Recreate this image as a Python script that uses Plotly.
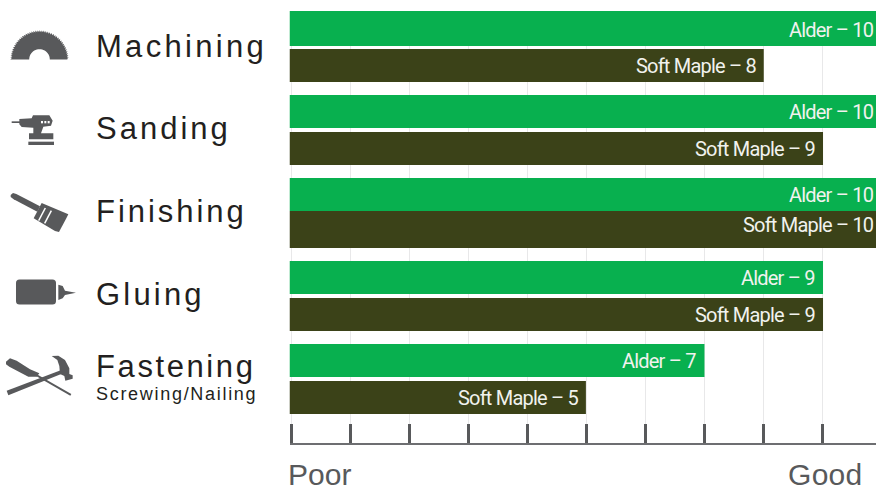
import math
import plotly.graph_objects as go

# ---- data ----
categories = ["Machining", "Sanding", "Finishing", "Gluing", "Fastening"]
alder = [10, 10, 10, 9, 7]
soft_maple = [8, 9, 10, 9, 5]
series_names = ["Alder", "Soft Maple"]
subtitle = "Screwing/Nailing"
axis_low = "Poor"
axis_high = "Good"

# ---- layout constants (pixels of the 876x486 picture) ----
W, H = 876, 486
PLOT_L, PLOT_R, PLOT_T, PLOT_B = 289.5, 876, 11, 443
GROUP_H = 83
FIRST_C = 47
UNIT = 59.28
ZERO_PX = 289.5
TICK0_PX = 291
TICK_STEP_PX = 59.1
GREEN, OLIVE, GREY, INK = "#08b04f", "#3b4218", "#58595b", "#231f20"

xmin = (PLOT_L - ZERO_PX) / UNIT
xmax = (PLOT_R - ZERO_PX) / UNIT
ymin = (PLOT_T - FIRST_C) / GROUP_H
ymax = (PLOT_B - FIRST_C) / GROUP_H

alder_offset = [-36, -35, -35, -35, -35]
alder_width = [35, 33, 33, 33, 33]
maple_offset = [2, 2, -2, 2, 2]
maple_width = [33, 33, 37, 33, 33]
alder_shift = [17, 18, 18, 18, 18]
maple_shift = [-19, -19, -12, -19, -19]


def scaled(vals):
    return [v / GROUP_H for v in vals]


fig = go.Figure()
fig.add_trace(go.Bar(y=categories, x=alder, orientation="h", name=series_names[0],
                     offset=scaled(alder_offset), width=scaled(alder_width),
                     marker=dict(color=GREEN, line=dict(width=0)), hoverinfo="skip"))
fig.add_trace(go.Bar(y=categories, x=soft_maple, orientation="h", name=series_names[1],
                     offset=scaled(maple_offset), width=scaled(maple_width),
                     marker=dict(color=OLIVE, line=dict(width=0)), hoverinfo="skip"))


def spaced(text, sp):
    return f'<span style="letter-spacing:{sp}px">{text}</span>'


anns = []


def bar_label(cat, name, v, yshift):
    clipped = v > xmax
    anns.append(dict(x=min(v, xmax), y=cat, xref="x", yref="y", text=spaced(f"{name} – {v}", -0.8),
                     showarrow=False, xanchor="right", yanchor="middle", align="right",
                     xshift=0 if clipped else -6, yshift=yshift,
                     font=dict(family="Roboto, sans-serif", size=20, color="#f1f2ee")))


for i, c in enumerate(categories):
    bar_label(c, series_names[0], alder[i], alder_shift[i])
    bar_label(c, series_names[1], soft_maple[i], maple_shift[i])


def paper_text(text, x, y, size, color=INK, sp=0.0, anchor="left"):
    anns.append(dict(x=x / W, y=1 - y / H, xref="paper", yref="paper", text=spaced(text, sp) if sp else text,
                     showarrow=False, xanchor=anchor, yanchor="middle", align=anchor,
                     font=dict(family="Liberation Sans, sans-serif", size=size, color=color)))


row_y = [46, 128, 211, 294, 366]
row_sp = [3.3, 3.0, 2.95, 3.2, 2.6]
for c, y, s in zip(categories, row_y, row_sp):
    paper_text(c, 94, y, 31, sp=s)
paper_text(subtitle, 94, 394, 18, sp=1.7)
paper_text(axis_low, 286, 474, 30, color=GREY)
paper_text(axis_high, 864.5, 474, 30, color=GREY, anchor="right", sp=0.3)


# ---- icons drawn as paper shapes ----
def P(x, y):
    return f"{x / W:.5f},{1 - y / H:.5f}"


def poly(points):
    return "M" + " L".join(P(x, y) for x, y in points) + " Z"


def z(ox, oy, pts):
    return [(ox + a / 3, oy + b / 3) for a, b in pts]


shapes = []


def icon(path, fill=GREY):
    shapes.append(dict(type="path", xref="paper", yref="paper", path=path,
                       fillcolor=fill, line=dict(width=0), layer="above"))


# saw blade
cx, cy, ro, ri, rh = 39.5, 59.5, 29.2, 27.4, 10.3
teeth = 44
pts = []
for k in range(teeth + 1):
    t = math.pi - math.pi * k / teeth
    pts.append((cx + ro * math.cos(t), cy - ro * math.sin(t)))
    if k < teeth:
        t2 = t - math.pi / teeth * 0.85
        pts.append((cx + ri * math.cos(t2), cy - ri * math.sin(t2)))
for k in range(25):
    t = math.pi * k / 24
    pts.append((cx + rh * math.cos(t), cy - rh * math.sin(t)))
icon(poly(pts))

# sander
icon(poly(z(5, 105, [(20, 49), (45, 49), (45, 54), (20, 54)])))
icon(poly(z(5, 105, [(43, 42), (80, 40), (84, 31), (133, 31), (143, 47), (138, 62), (115, 65), (108, 85),
                     (145, 85), (145, 103), (72, 103), (72, 85), (85, 85), (85, 68), (50, 66), (43, 58)])))
icon(poly(z(5, 105, [(70, 110), (147, 110), (147, 120), (70, 120)])))
for a in (108, 118, 128):
    icon(poly(z(5, 105, [(a, 48), (a + 6, 48), (a + 6, 55), (a, 55)])), "#ffffff")

# brush
icon(poly(z(5, 185, [(17, 30), (24, 24), (34, 27), (105, 64), (97, 80), (26, 43), (17, 36)])))
icon(poly(z(5, 185, [(110, 54), (190, 88), (184, 100), (162, 141), (150, 138), (86, 100)])))
icon(poly(z(5, 185, [(119, 68), (123, 70), (103, 108), (99, 106)])), "#ffffff")
icon(poly(z(5, 185, [(137, 76), (141, 78), (121, 116), (117, 114)])), "#ffffff")

# glue bottle
x0, y0, x1, y1, r = 16, 279.5, 56, 304.5, 3.5
icon(f"M{P(x0 + r, y0)} L{P(x1 - r, y0)} Q{P(x1, y0)} {P(x1, y0 + r)} L{P(x1, y1 - r)} Q{P(x1, y1)} {P(x1 - r, y1)} "
     f"L{P(x0 + r, y1)} Q{P(x0, y1)} {P(x0, y1 - r)} L{P(x0, y0 + r)} Q{P(x0, y0)} {P(x0 + r, y0)} Z")
icon(poly(z(10, 270, [(145, 44), (158, 48), (165, 62), (198, 68), (165, 75), (158, 85), (145, 90)])))

# crossed tools
icon(poly(z(0, 350, [(18, 35), (30, 25), (50, 32), (90, 58), (118, 70), (110, 80), (85, 80), (28, 50), (18, 43)])))
icon(poly(z(0, 350, [(108, 78), (113, 74), (214, 132), (211, 137)])))
icon(poly(z(0, 350, [(20, 122), (190, 58), (193, 68), (25, 136)])))
icon(poly(z(0, 350, [(155, 18), (175, 17), (195, 30), (208, 55), (208, 72), (218, 76), (218, 86), (196, 92),
                     (193, 78), (180, 72), (178, 48), (172, 30)])))

fig.update_layout(
    width=W, height=H, autosize=False,
    margin=dict(l=0, r=0, t=0, b=0, pad=0),
    paper_bgcolor="#ffffff", plot_bgcolor="#ffffff",
    showlegend=False,
    barmode="overlay",
    xaxis=dict(domain=[PLOT_L / W, PLOT_R / W], range=[xmin, xmax],
               tick0=(TICK0_PX - ZERO_PX) / UNIT, dtick=TICK_STEP_PX / UNIT,
               showticklabels=False, showgrid=True, gridcolor="#e8e8e9", gridwidth=1, zeroline=False,
               ticks="inside", ticklen=19, tickwidth=3, tickcolor=GREY,
               showline=True, linecolor="#6d6e71", linewidth=2, mirror=False, fixedrange=True),
    yaxis=dict(domain=[1 - PLOT_B / H, 1 - PLOT_T / H], type="category", categoryorder="array",
               categoryarray=categories, range=[ymax, ymin], showticklabels=False,
               showgrid=False, zeroline=False, ticks="", showline=False, fixedrange=True),
    annotations=anns,
    shapes=shapes,
)
fig.write_html("out.html", config=dict(displayModeBar=False),
               post_script="document.body.style.margin='0';document.body.style.overflow='hidden';")
